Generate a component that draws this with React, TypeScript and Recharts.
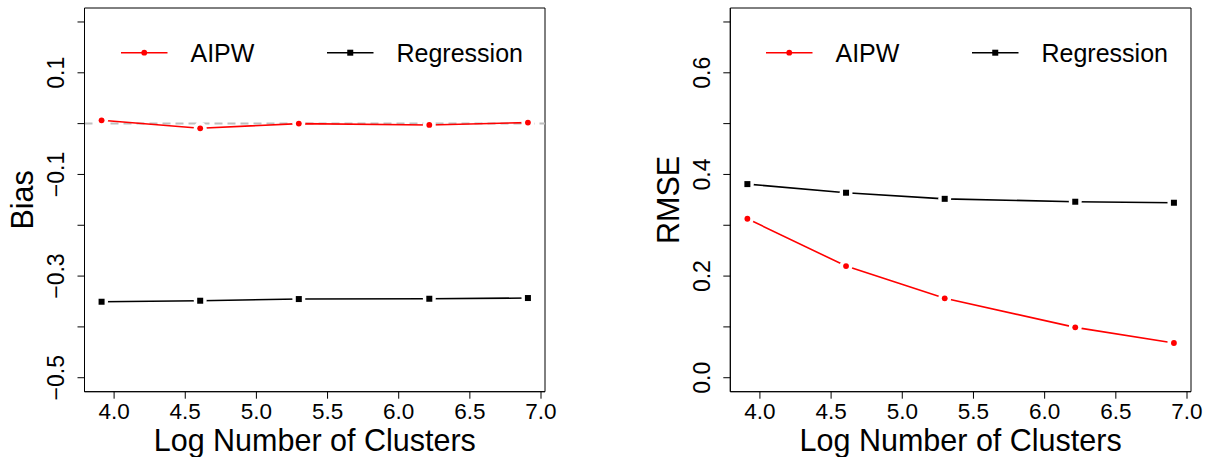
import {
  LineChart,
  Line,
  XAxis,
  YAxis,
  Legend,
  ReferenceLine,
  ReferenceArea,
  Label,
} from 'recharts';

// log(number of clusters): 50, 100, 200, 500, 1000
const logClusters = [3.912, 4.605, 5.298, 6.215, 6.908];

const biasAIPW = [0.0065, -0.0092, 0.0, -0.0026, 0.002];
const biasRegression = [-0.3505, -0.3485, -0.3452, -0.3446, -0.3432];

const rmseAIPW = [0.3128, 0.2197, 0.1562, 0.0991, 0.0683];
const rmseRegression = [0.381, 0.364, 0.352, 0.3463, 0.3443];

const xTicks = [4.0, 4.5, 5.0, 5.5, 6.0, 6.5, 7.0];
const biasTicks = [-0.5, -0.4, -0.3, -0.2, -0.1, 0.0, 0.1, 0.2];
const biasLabels = [-0.5, -0.3, -0.1, 0.1];
const rmseTicks = [0.0, 0.1, 0.2, 0.3, 0.4, 0.5, 0.6, 0.7];
const rmseLabels = [0.0, 0.2, 0.4, 0.6];

const X_DOMAIN: [number, number] = [3.792, 7.028];

const FONT = '"Liberation Sans", Arial, Helvetica, sans-serif';
const RED = '#FF0000';
const W = 604;
const H = 457;

const fmt = (v: number) => {
  const s = Math.abs(v).toFixed(1);
  return v < -1e-9 ? '\u2212' + s : s;
};

const XTick = (props: any) => {
  const { x, y, payload } = props;
  return (
    <text x={x} y={y} dy={18.5} textAnchor="middle" fontFamily={FONT} fontSize={22.5} fill="#000">
      {payload.value.toFixed(1)}
    </text>
  );
};

const makeYTick = (labels: number[]) => (props: any) => {
  const { x, y, payload } = props;
  if (!labels.some((l) => Math.abs(l - payload.value) < 1e-9)) return <g />;
  const bx = x - 11.5;
  return (
    <text
      x={bx}
      y={y}
      transform={`rotate(-90 ${bx} ${y})`}
      textAnchor="middle"
      fontFamily={FONT}
      fontSize={23}
      fill="#000"
    >
      {fmt(payload.value)}
    </text>
  );
};

// R type="b" look: white halo leaves a gap in the line around each point
const CircleDot = (props: any) => {
  const { cx, cy } = props;
  if (cx == null || cy == null) return <g />;
  return (
    <g>
      <circle cx={cx} cy={cy} r={6.5} fill="#fff" />
      <circle cx={cx} cy={cy} r={2.9} fill={RED} />
    </g>
  );
};

const SquareDot = (props: any) => {
  const { cx, cy } = props;
  if (cx == null || cy == null) return <g />;
  return (
    <g>
      <circle cx={cx} cy={cy} r={6.5} fill="#fff" />
      <rect x={cx - 3} y={cy - 3} width={6} height={6} fill="#000" />
    </g>
  );
};

const renderLegend = (props: any) => {
  const { payload } = props;
  return (
    <svg
      width={460}
      height={80}
      style={{ position: 'absolute', left: 0, top: 0, overflow: 'visible' }}
    >
      {(payload || []).map((entry: any, i: number) => {
        const x0 = 36 + i * 206;
        const isReg = entry.value === 'Regression';
        return (
          <g key={entry.value}>
            <line x1={x0} x2={x0 + 46.5} y1={44.7} y2={44.7} stroke={entry.color} strokeWidth={1.6} />
            {isReg ? (
              <rect x={x0 + 23.25 - 3} y={41.7} width={6} height={6} fill="#000" />
            ) : (
              <circle cx={x0 + 23.25} cy={44.7} r={2.9} fill={RED} />
            )}
            <text x={x0 + 69.5} y={53.7} fontFamily={FONT} fontSize={25} fill="#000">
              {entry.value}
            </text>
          </g>
        );
      })}
    </svg>
  );
};

interface PanelProps {
  aipw: number[];
  regression: number[];
  yTicks: number[];
  yLabels: number[];
  yDomain: [number, number];
  yTitle: string;
  axisWidth: number;
  rightMargin: number;
  zeroLine?: boolean;
}

function Panel({ aipw, regression, yTicks, yLabels, yDomain, yTitle, axisWidth, rightMargin, zeroLine }: PanelProps) {
  const data = logClusters.map((x, i) => ({ x, aipw: aipw[i], regression: regression[i] }));
  const YTick = makeYTick(yLabels);

  return (
    <LineChart width={W} height={H} data={data} margin={{ top: 8, right: rightMargin, bottom: 0, left: 0 }}>
      <XAxis
        dataKey="x"
        type="number"
        domain={X_DOMAIN}
        allowDataOverflow
        ticks={xTicks}
        height={65.3}
        tickSize={7}
        tick={<XTick />}
        axisLine={{ stroke: '#000' }}
        tickLine={{ stroke: '#000' }}
      >
        <Label
          content={(p: any) => {
            const vb = p.viewBox || {};
            return (
              <text
                x={vb.x + vb.width / 2}
                y={H - 6}
                textAnchor="middle"
                fontFamily={FONT}
                fontSize={30.5}
                fill="#000"
              >
                Log Number of Clusters
              </text>
            );
          }}
        />
      </XAxis>
      <YAxis
        type="number"
        domain={yDomain}
        allowDataOverflow
        ticks={yTicks}
        width={axisWidth}
        tickSize={7}
        tick={<YTick />}
        axisLine={{ stroke: '#000' }}
        tickLine={{ stroke: '#000' }}
      >
        <Label
          content={(p: any) => {
            const vb = p.viewBox || {};
            const bx = vb.x + vb.width - 51;
            const cy = vb.y + vb.height / 2;
            return (
              <text
                x={bx}
                y={cy}
                transform={`rotate(-90 ${bx} ${cy})`}
                textAnchor="middle"
                fontFamily={FONT}
                fontSize={30.5}
                fill="#000"
              >
                {yTitle}
              </text>
            );
          }}
        />
      </YAxis>
      {/* plot frame (R box()) */}
      <ReferenceArea
        x1={X_DOMAIN[0]}
        x2={X_DOMAIN[1]}
        y1={yDomain[0]}
        y2={yDomain[1]}
        fill="none"
        fillOpacity={0}
        stroke="#000"
        strokeWidth={1}
        ifOverflow="extendDomain"
      />
      {zeroLine && <ReferenceLine y={0} stroke="#BEBEBE" strokeWidth={2} strokeDasharray="8 5" />}
      <Legend
        content={renderLegend}
        wrapperStyle={{ position: 'absolute', left: axisWidth, top: 8, width: 0, height: 0, overflow: 'visible' }}
      />
      <Line
        dataKey="aipw"
        name="AIPW"
        stroke={RED}
        strokeWidth={1.6}
        dot={<CircleDot />}
        activeDot={false}
        isAnimationActive={false}
      />
      <Line
        dataKey="regression"
        name="Regression"
        stroke="#000"
        strokeWidth={1.6}
        dot={<SquareDot />}
        activeDot={false}
        isAnimationActive={false}
      />
    </LineChart>
  );
}

export default function App() {
  return (
    <div style={{ position: 'absolute', left: 0, top: 0, width: 1208, height: 457, display: 'flex', background: '#fff' }}>
      <Panel
        aipw={biasAIPW}
        regression={biasRegression}
        yTicks={biasTicks}
        yLabels={biasLabels}
        yDomain={[-0.5275, 0.2275]}
        yTitle="Bias"
        axisWidth={84.5}
        rightMargin={59}
        zeroLine
      />
      <Panel
        aipw={rmseAIPW}
        regression={rmseRegression}
        yTicks={rmseTicks}
        yLabels={rmseLabels}
        yDomain={[-0.0275, 0.7275]}
        yTitle="RMSE"
        axisWidth={126.3}
        rightMargin={17}
      />
    </div>
  );
}
